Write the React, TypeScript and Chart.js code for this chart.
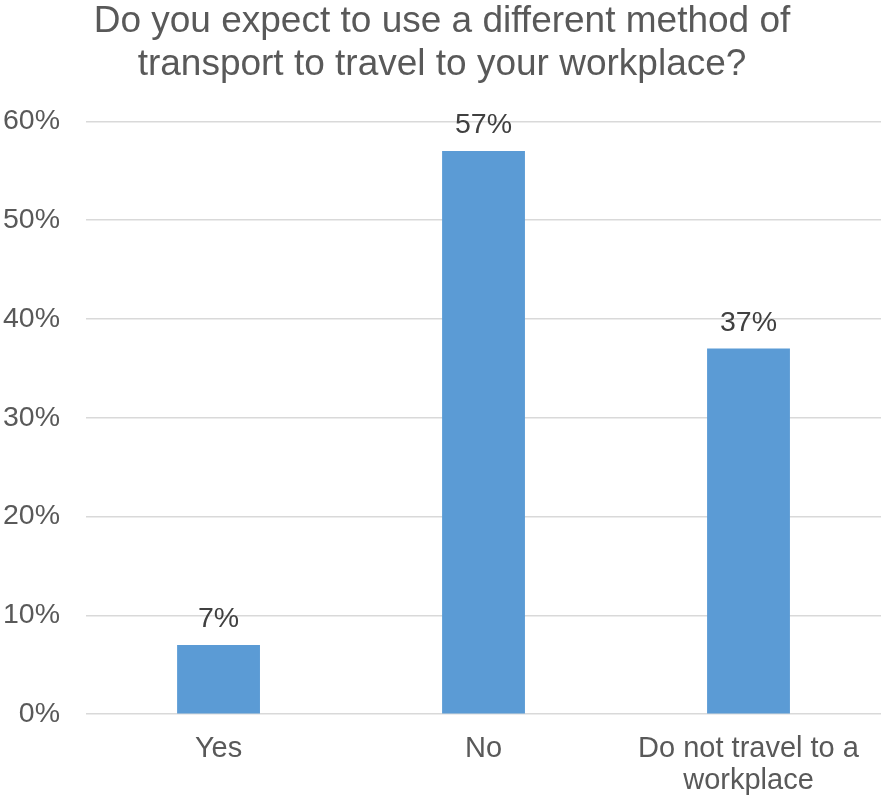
import React, { useEffect, useRef } from "react";
import { Chart, registerables } from "chart.js";

Chart.register(...registerables);

const titleLines = ["Do you expect to use a different method of", "transport to travel to your workplace?"];
const categories: (string | string[])[] = ["Yes", "No", ["Do not travel to a", "workplace"]];
const values = [7, 57, 37];
const yTicksMin = 0;
const yTicksMax = 60;
const yTickStep = 10;

const FONT = "'Liberation Sans', Arial, Helvetica, sans-serif";

const dataLabelPlugin = {
  id: "dataLabels",
  afterDatasetsDraw(chart: any) {
    const ctx = chart.ctx;
    const meta = chart.getDatasetMeta(0);
    ctx.save();
    ctx.font = `28.5px ${FONT}`;
    ctx.fillStyle = "#404040";
    ctx.textAlign = "center";
    ctx.textBaseline = "alphabetic";
    meta.data.forEach((bar: any, i: number) => {
      ctx.fillText(`${values[i]}%`, bar.x, bar.y - 18);
    });
    ctx.restore();
  },
};

export default function App() {
  const ref = useRef<HTMLCanvasElement>(null);
  useEffect(() => {
    if (!ref.current) return;
    const chart = new Chart(ref.current, {
      type: "bar",
      data: {
        labels: categories,
        datasets: [
          {
            data: values,
            backgroundColor: "#5B9BD5",
            borderWidth: 0,
            barPercentage: 0.3127,
            categoryPercentage: 1,
          },
        ],
      },
      options: {
        animation: false,
        responsive: true,
        maintainAspectRatio: false,
        layout: { padding: { left: 3, right: 1, top: 0, bottom: 1 } },
        plugins: {
          legend: { display: false },
          tooltip: { enabled: false },
          title: {
            display: true,
            text: titleLines,
            color: "#595959",
            font: { family: FONT, size: 37, weight: "normal", lineHeight: 1.17 },
            padding: { top: 0, bottom: 34.7 },
          },
        },
        scales: {
          x: {
            grid: { display: false, drawTicks: true, tickLength: 19 },
            border: { display: false },
            ticks: {
              color: "#595959",
              font: { family: FONT, size: 29, lineHeight: 1.1 },
              padding: 0,
              maxRotation: 0,
              autoSkip: false,
            },
          },
          y: {
            min: yTicksMin,
            max: yTicksMax,
            border: { display: false },
            grid: {
              color: "#d9d9d9",
              lineWidth: 1.5,
              drawTicks: true,
              tickLength: 26,
              tickColor: "rgba(0,0,0,0)",
            },
            ticks: {
              stepSize: yTickStep,
              color: "#595959",
              font: { family: FONT, size: 28.5 },
              padding: 0,
              callback: (v: any) => `${v}%`,
            },
          },
        },
      },
      plugins: [dataLabelPlugin],
    });
    return () => chart.destroy();
  }, []);
  return (
    <div style={{ position: "absolute", left: 0, top: 0, width: 882, height: 798, background: "#fff" }}>
      <canvas ref={ref} />
    </div>
  );
}
